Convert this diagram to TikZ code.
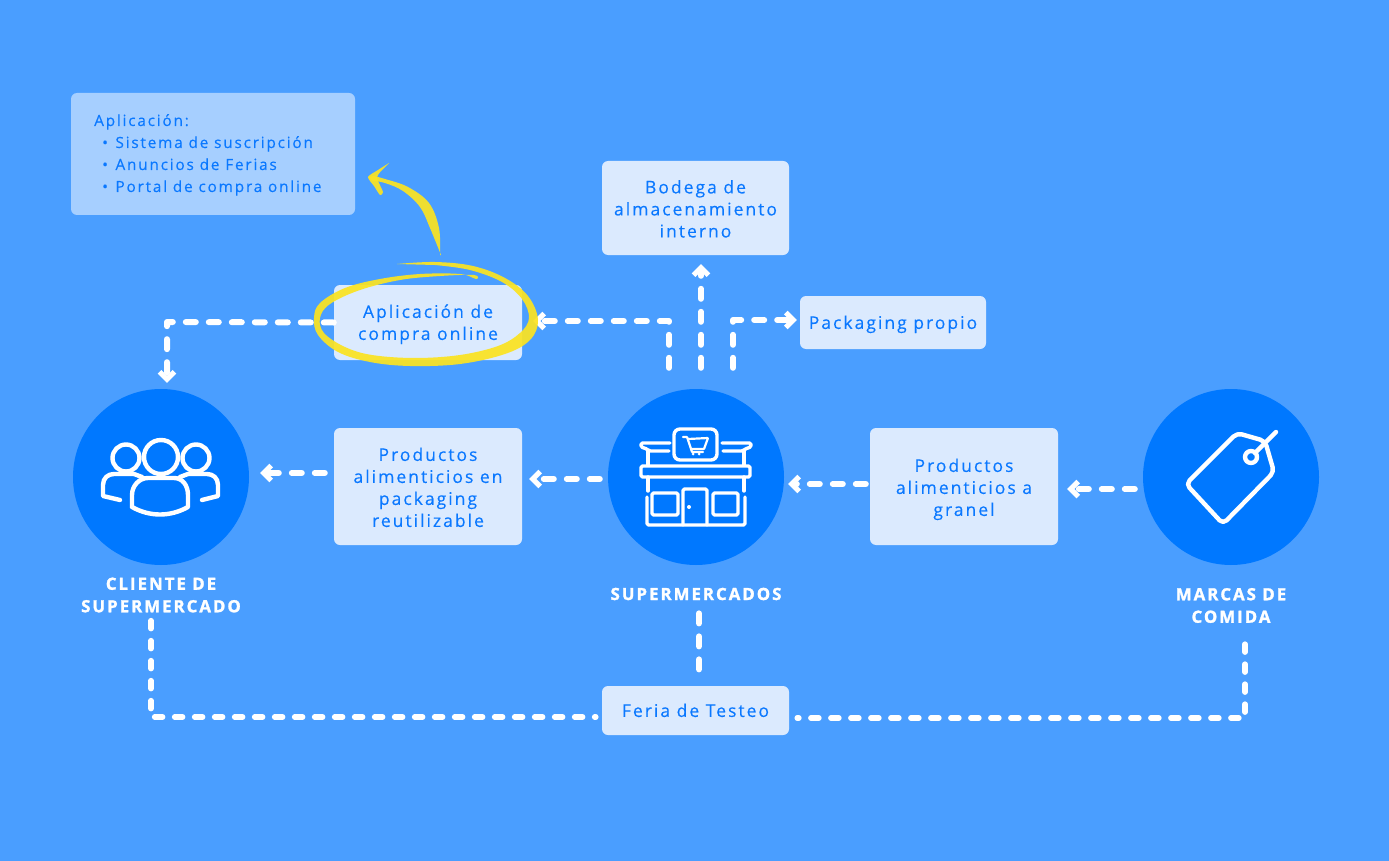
\documentclass[tikz,border=0pt]{standalone}
\usepackage{fontspec}
\setmainfont[LetterSpace=11.5,FakeBold=0.25]{Open Sans}
\newfontface\lblfont[LetterSpace=12,FakeBold=1.5]{Open Sans Bold}
\usetikzlibrary{arrows.meta,calc}
\definecolor{bgblue}{HTML}{4A9EFF}
\definecolor{circblue}{HTML}{0078FF}
\definecolor{boxfill}{HTML}{DBEAFE}
\definecolor{notefill}{HTML}{A6CFFF}
\definecolor{txtblue}{HTML}{0A78FF}
\definecolor{scrib}{HTML}{FBE322}
\newcommand{\mlines}[2][4pt]{\vbox{\kern#1\hbox{\begin{tabular}[c]{@{}c@{}}#2\end{tabular}}}}
\tikzset{
  x=1pt,y=-1pt,
  box/.style={rectangle,rounded corners=6pt,fill=boxfill,text=txtblue,inner sep=0pt,align=center,
    font=\fontsize{17.5}{22}\selectfont},
  notebox/.style={rectangle,rounded corners=6pt,fill=notefill,inner sep=0pt},
  notetext/.style={text=txtblue,inner sep=0pt,anchor=base west,font=\fontsize{15.4}{22}\selectfont},
  disc/.style={circle,fill=circblue,minimum size=176pt,inner sep=0pt},
  lbl/.style={text=white,align=center,inner sep=0pt,font=\fontsize{16.8}{22.5}\selectfont\lblfont},
  conn/.style={draw=white,line width=6pt,line cap=round,line join=round,dash pattern=on 10pt off 13pt},
  tip/.style={conn,-{Straight Barb[length=7.5pt,width=15pt,line width=5pt]}},
  thin conn/.style={draw=white,line width=5.5pt,line cap=round,line join=round,dash pattern=on 8pt off 12pt},
  icon/.style={draw=white,line width=3.4pt,line cap=round,line join=round,rounded corners=1.5pt},
  iconb/.style={draw=white,line width=4.4pt,line cap=round,line join=round},
  scribble/.style={fill=scrib,draw=none,fill opacity=.93},
}
\begin{document}
\begin{tikzpicture}
\useasboundingbox[fill=bgblue] (0,0) rectangle (1389,861);
% nodes
\node[notebox,minimum width=284pt,minimum height=122pt] (note) at (213,154) {};
\node[notetext] (noteA) at (94,126) {Aplicación:};
\node[notetext] (noteB) at (102,148) {•\hspace{7.5pt}Sistema de suscripción};
\node[notetext] (noteC) at (102,170) {•\hspace{7.5pt}Anuncios de Ferias};
\node[notetext] (noteD) at (102,192) {•\hspace{7.5pt}Portal de compra online};
\node[box,minimum width=187pt,minimum height=94pt] (bodega) at (695.5,208) {\mlines[6pt]{Bodega de\\almacenamiento\\interno}};
\node[box,minimum width=186pt,minimum height=53pt] (pack) at (893,322.5) {\mlines{Packaging propio}};
\node[box,minimum width=188pt,minimum height=75pt] (appl) at (428,322.5) {\mlines{Aplicación de\\compra online}};
\node[box,minimum width=188pt,minimum height=117pt] (reut) at (428,486.5) {\mlines[6pt]{Productos\\alimenticios en\\packaging\\reutilizable}};
\node[box,minimum width=188pt,minimum height=117pt] (gran) at (964,486.5) {\mlines[6pt]{Productos\\alimenticios a\\granel}};
\node[box,minimum width=187pt,minimum height=49pt] (feria) at (695.5,710.5) {\mlines{Feria de Testeo}};
\node[disc] (client) at (161,477) {};
\node[disc] (super) at (696,477) {};
\node[disc] (brand) at (1231,477) {};
\node[lbl] (lclient) at (161,595) {CLIENTE DE\\SUPERMERCADO};
\node[lbl] (lsuper) at (696,594) {SUPERMERCADOS};
\node[lbl] (lbrand) at (1231,605.5) {MARCAS DE\\COMIDA};
% bend coordinates
\coordinate (b1) at (669,321);
\coordinate (b2) at (701,300);
\coordinate (b3) at (733,320);
\coordinate (b4) at (167,322);
\coordinate (b5) at (151,717);
\coordinate (b6) at (1245,718);
\coordinate (b7) at (699,600);
% connectors
\draw[tip,shorten <=21pt,shorten >=11pt] (b1 |- super.north) -- (b1) -- (b1 -| appl.east);
\draw[tip,shorten <=21pt,shorten >=9pt] (b2 |- super.north) -- (b2 |- bodega.south);
\draw[tip,shorten <=21pt,shorten >=3pt] (b3 |- super.north) -- (b3) -- (b3 -| pack.west);
\draw[tip,shorten <=0pt,shorten >=6pt] (appl.west) -- (b4) -- (b4 |- client.north);
\draw[tip,shorten <=9pt,shorten >=11pt] (reut.west |- 0,473) -- (client.east |- 0,473);
\draw[tip,shorten <=8pt,shorten >=7pt] (super.west |- 0,479) -- (reut.east |- 0,479);
\draw[tip,shorten <=4pt,shorten >=4pt] (gran.west |- 0,484) -- (super.east |- 0,484);
\draw[tip,shorten <=8pt,shorten >=9pt] (brand.west |- 0,489) -- (gran.east |- 0,489);
\draw[conn,shorten <=13pt,shorten >=10pt] (b7 |- lsuper.south) -- (b7 |- feria.north);
\draw[thin conn,shorten <=8pt,shorten >=6pt] (b5 |- lclient.south) -- (b5) -- (b5 -| feria.west);
\draw[thin conn,shorten <=21pt,shorten >=8pt] (b6 |- lbrand.south) -- (b6) -- (b6 -| feria.east);
% scribble ellipse
\fill[scribble] plot[smooth,tension=.6] coordinates {(397,264) (435,262) (473,266) (505,278) (528,296) (538,320) (530,340) (505,354) (460,364) (410,366) (370,362) (338,352) (318,335) (314,318) (320,303) (345,288) (380,279) (420,274) (460,274) (476,279)
 (474,275) (440,276) (400,280) (360,290) (330,304) (320,318) (324,333) (345,347) (372,355) (415,358) (460,355) (498,346) (520,333) (529,318) (522,299) (502,282) (470,270) (435,265)};
% scribble arrow
\fill[scribble] plot[smooth,tension=.6] coordinates {(440,255) (439,228) (429,203) (408,187) (385,179) (372,176) (371,180) (385,183) (403,191) (420,207) (430,228) (441,255)};
\fill[scribble] plot[smooth,tension=.4] coordinates {(389,163) (378,170) (368,177) (374,186) (380,195) (383,192) (377,178) (381,171)};
% store icon
\draw[icon,rounded corners=6pt] (674,429) rectangle (717,460);
\draw[icon,line width=2.2pt,rounded corners=.5pt] (683,437) -- (687,437) -- (692,452) -- (703,452);
\draw[icon,line width=2.2pt,rounded corners=.5pt] (688,439) -- (708,438) -- (704,449) -- (691,449);
\fill[white] (693,454) circle (1.5) (699,454) circle (1.5);
\draw[icon] (670,443) -- (641,443) -- (641,447) -- (647,449) -- (649,451) -- (669,451);
\draw[icon] (722,443) -- (751,443) -- (751,447) -- (745,449) -- (743,451) -- (723,451);
\draw[icon] (648,451) -- (648,465) (744,451) -- (744,465);
\draw[icon] (641,466) rectangle (750,477);
\draw[icon] (648,477) -- (648,491) (744,477) -- (744,491);
\draw[icon] (647,497) -- (647,525) -- (745,525) -- (745,497);
\draw[icon] (683,525) -- (683,489) -- (707,489) -- (707,525);
\fill[white] (689,507) circle (2);
\draw[icon] (652,493) rectangle (678,515);
\draw[icon] (713,493) rectangle (738,515);
% people icon
\draw[iconb] (161,457) circle (17);
\draw[iconb] (126,458) circle (13.5);
\draw[iconb] (196,458) circle (13.5);
\draw[iconb] (132,507) -- (132,495) .. controls (132,486) and (139,478) .. (148,478) -- (174,478) .. controls (183,478) and (188,486) .. (188,495) -- (188,507) .. controls (170,517) and (150,517) .. (132,507);
\draw[iconb] (120,500) -- (103,496) -- (103,485) .. controls (103,478) and (108,474) .. (114,474) -- (134,474) -- (142,477);
\draw[iconb] (202,500) -- (218,496) -- (218,485) .. controls (218,478) and (213,474) .. (207,474) -- (188,474) -- (180,477);
% tag icon
\draw[iconb,rounded corners=5pt] (1237,433) -- (1265,441) -- (1274,472) -- (1223,524) -- (1186,484) -- cycle;
\draw[iconb] (1251,457) circle (6);
\draw[iconb] (1255,453) -- (1276,432);
\end{tikzpicture}
\end{document}
